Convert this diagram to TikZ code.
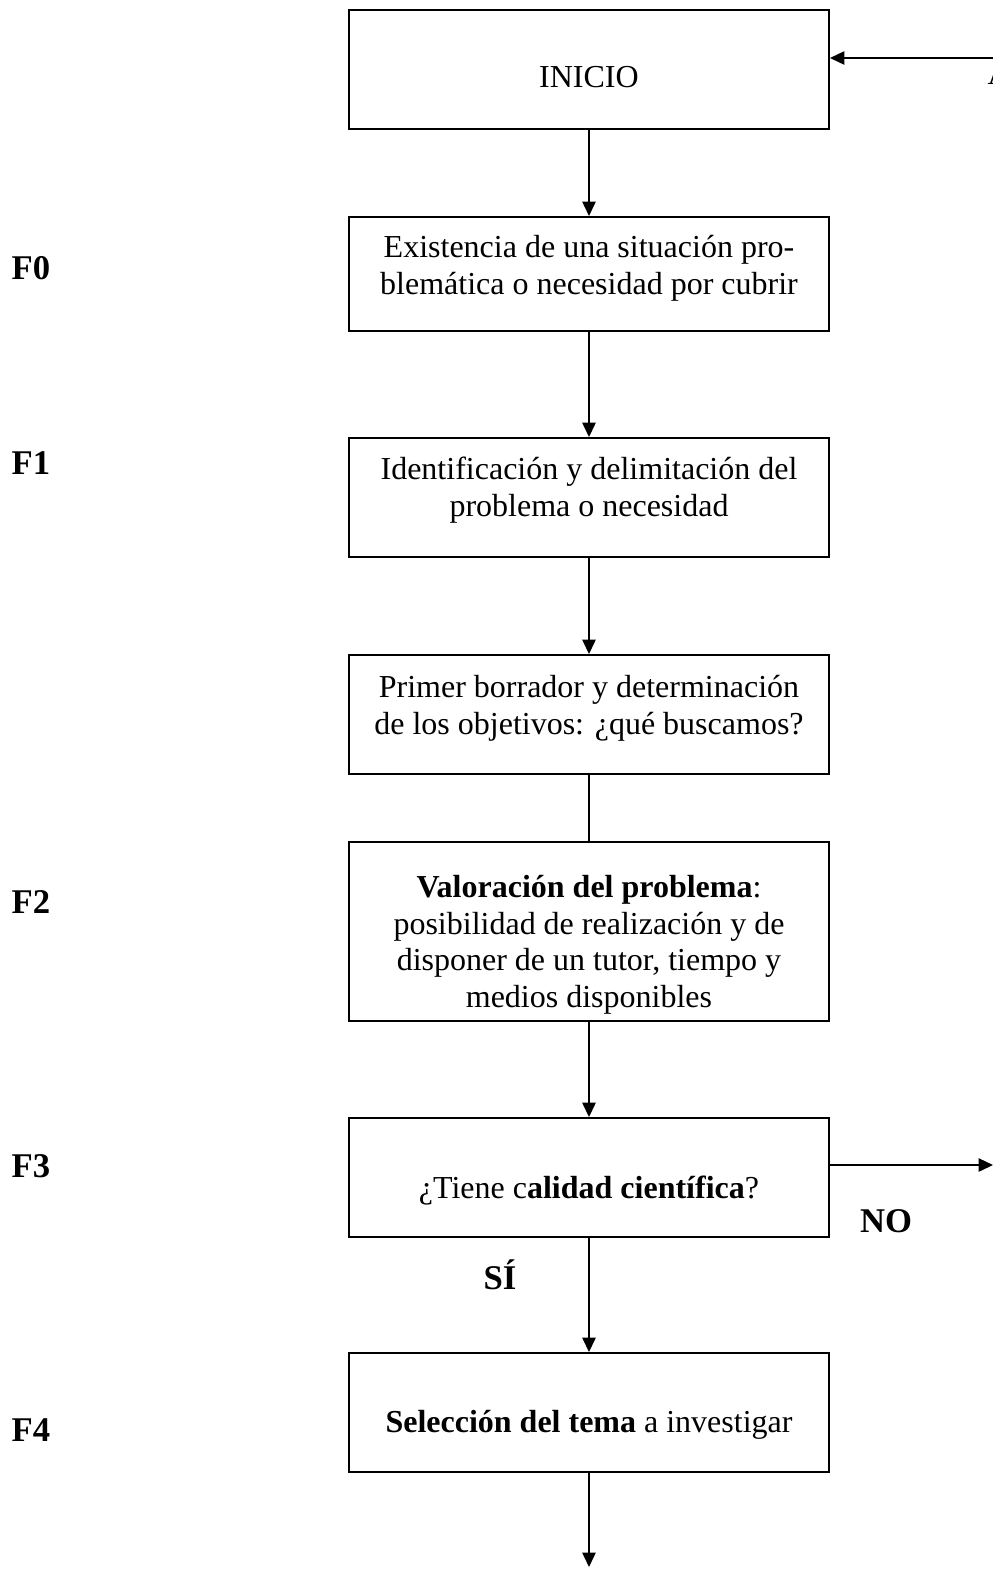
\documentclass[tikz,border=0pt]{standalone}
\usepackage{fontspec}
\setmainfont{Liberation Serif}
\usetikzlibrary{positioning,arrows.meta}

\tikzset{
  box/.style={draw, line width=0.75pt, minimum width=180pt, minimum height=44.6pt, inner sep=0pt},
  txt/.style={align=center, inner sep=0pt},
  arr/.style={line width=0.6pt, -{Triangle[length=5.4pt,width=5pt]}},
  lbl/.style={font=\fontsize{13}{15}\selectfont\bfseries}
}

\begin{document}
\begin{tikzpicture}[x=0.375pt, y=-0.375pt, font=\fontsize{12}{13.8}\selectfont]
        \clip (0,0) rectangle (993,1569);
        % Boxes
        \node (n0) at (589,69.5) [box] {};
        \node (n1) at (589,274) [box, minimum height=42.75pt] {};
        \node (n2) at (589,497.5) [box] {};
        \node (n3) at (589,714.5) [box] {};
        \node (n4) at (589,931.5) [box, minimum height=67.1pt] {};
        \node (n5) at (589,1177.5) [box] {};
        \node (n6) at (589,1412.5) [box] {};
        % Texts in the boxes
        \node (t0) at (n0) [txt, yshift=-3pt] {INICIO};
        \node (t1) at (n1) [txt, yshift=2pt] {Existencia de una situación pro-\\blemática o necesidad por cubrir};
        \node (t2) at (n2) [txt, yshift=2.8pt] {Identificación y delimitación del\\problema o necesidad};
        \node (t3) at (n3) [txt, yshift=2.4pt] {Primer borrador y determinación\\de los objetivos: ¿qué buscamos?};
        \node (t4) at (n4) [txt, yshift=-5pt] {\textbf{Valoración del problema}:\\posibilidad de realización y de\\disponer de un tutor, tiempo y\\medios disponibles};
        \node (t5) at (n5) [txt, yshift=-5pt] {¿Tiene c\textbf{alidad científica}?};
        \node (t6) at (n6) [txt, yshift=-4.8pt] {\textbf{Selección del tema} a investigar};
        % Phase labels
        \foreach \t/\y in {F0/268, F1/463, F2/902, F3/1166, F4/1430} {
            \node (l\t) at (31,\y) [lbl] {\t};
        }
        \node (no) at (886,1221) [lbl] {NO};
        \node (si) at (500,1275) [lbl] {SÍ};
        % Loose ends
        \coordinate (back) at (993,58);
        \coordinate (out) at (993,1165);
        \coordinate (end) at (589,1567);
        \node (a) at (987,74) [anchor=west, inner sep=0pt] {A};
        
        % Edges
        \foreach \i/\j in {0/1, 1/2, 2/3, 4/5, 5/6} {
            \draw[arr] (n\i) -- (n\j);
        }
        \draw[line width=0.6pt] (n3) -- (n4);
        \draw[arr] (n6) -- (end);
        \draw[arr] (back) -- (back -| n0.east);
        \draw[arr] (n5.east |- out) -- (out);
    \end{tikzpicture}
\end{document}
